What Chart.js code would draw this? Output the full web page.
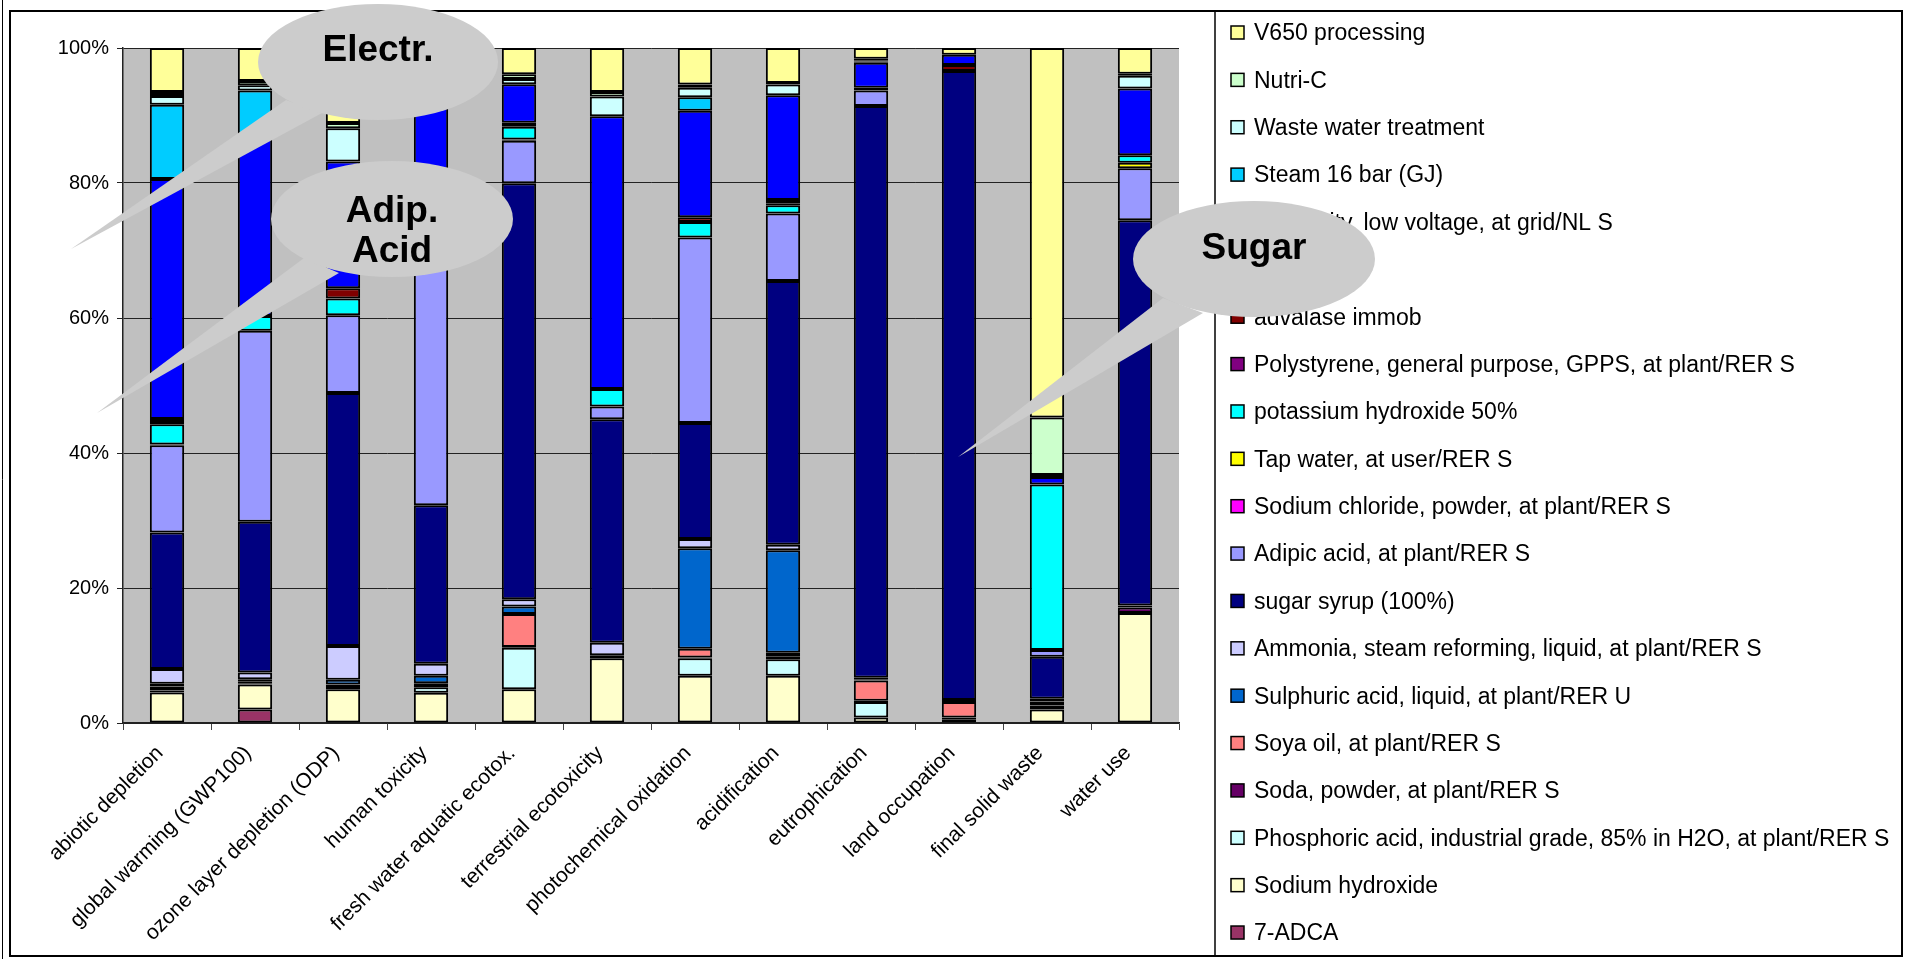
<!DOCTYPE html>
<html>
<head>
<meta charset="utf-8">
<title>Impact contributions</title>
<script src="https://cdn.jsdelivr.net/npm/chart.js@4.4.0/dist/chart.umd.min.js"></script>
<style>
  html, body { margin: 0; padding: 0; background: #ffffff; }
  #wrap { width: 1905px; height: 959px; position: relative; }
</style>
</head>
<body>
<div id="wrap"><canvas id="chart"></canvas></div>
<script>
// impact categories (x axis)
const categories = [
  'abiotic depletion', 'global warming (GWP100)', 'ozone layer depletion (ODP)',
  'human toxicity', 'fresh water aquatic ecotox.', 'terrestrial ecotoxicity',
  'photochemical oxidation', 'acidification', 'eutrophication',
  'land occupation', 'final solid waste', 'water use'
];

const yTicks = [0, 20, 40, 60, 80, 100];

// contributions per process, % of each category (stack order bottom -> top)
const adca7          = [0,    2.0,  0,    0,    0,    0,    0,    0,    0,    0,    0,    0];
const sodiumHydrox   = [4.5,  3.7,  5.0,  4.5,  5.0,  9.6,  7.0,  7.0,  0.8,  0.5,  2.0,  16.3];
const phosphoric     = [0.3,  0.2,  0.5,  0.8,  6.2,  0,    2.6,  2.45, 2.3,  0,    0.6,  0];
const sodaPowder     = [0.6,  0.3,  0.2,  0.6,  0.1,  0,    0.1,  0.35, 0.2,  0.3,  0.6,  0.8];
const soyaOil        = [0,    0,    0,    0,    4.9,  0.45, 1.3,  0.6,  3.0,  2.3,  0,    0];
const sulphuric      = [0.4,  0.3,  0.7,  1.1,  1.1,  0,    14.9, 15.2, 0.2,  0.3,  0.4,  0.3];
const ammonia        = [2.2,  1.0,  5.0,  1.8,  1.1,  1.85, 1.4,  0.8,  0.2,  0,    0,    0];
const sugarSyrup     = [20.2, 22.3, 37.5, 23.5, 61.8, 33.1, 17.2, 39.1, 84.7, 93.2, 6.2,  57.1];
const adipicAcid     = [12.9, 28.3, 11.5, 35.6, 6.3,  1.9,  27.5, 10.0, 2.3,  0,    1.0,  7.7];
const sodiumChloride = [0,    0,    0,    0,    0,    0,    0,    0,    0,    0,    0,    0];
const tapWater       = [0.1,  0,    0,    0,    0.2,  0,    0,    0,    0,    0,    0,    0.8];
const potassiumHydr  = [3.0,  2.2,  2.5,  1.0,  1.9,  2.6,  2.3,  1.2,  0.4,  0,    24.5, 1.1];
const polystyrene    = [0.5,  0,    0,    0,    0,    0,    0,    0.3,  0,    0,    0,    0];
const advalase       = [0.3,  0,    1.5,  0,    0.6,  0,    0.7,  0.5,  0,    0.9,  0,    0];
const antifoam       = [0,    0,    0,    0,    0,    0,    0,    0,    0,    0,    0,    0];
const electricity    = [35.5, 26.7, 18.8, 24.2, 5.7,  40.4, 15.8, 15.5, 3.7,  1.5,  1.1,  9.9];
const steam          = [11.0, 6.7,  0,    0,    0,    0,    2.0,  0,    0.2,  0,    0,    0];
const wasteWater     = [1.3,  0.8,  4.9,  1.5,  0.8,  2.9,  1.4,  1.6,  0.2,  0,    0.3,  1.9];
const nutriC         = [0.6,  0.6,  0.8,  0.5,  0.7,  0.7,  0.5,  0.2,  0.2,  0,    8.5,  0.3];
const v650           = [6.5,  4.9,  11.1, 5.0,  3.9,  6.5,  5.4,  5.2,  1.6,  1.0,  54.7, 3.8];

const seriesNames = [
  '7-ADCA',
  'Sodium hydroxide',
  'Phosphoric acid, industrial grade, 85% in H2O, at plant/RER S',
  'Soda, powder, at plant/RER S',
  'Soya oil, at plant/RER S',
  'Sulphuric acid, liquid, at plant/RER U',
  'Ammonia, steam reforming, liquid, at plant/RER S',
  'sugar syrup (100%)',
  'Adipic acid, at plant/RER S',
  'Sodium chloride, powder, at plant/RER S',
  'Tap water, at user/RER S',
  'potassium hydroxide 50%',
  'Polystyrene, general purpose, GPPS, at plant/RER S',
  'advalase immob',
  'Antifoam X',
  'Electricity, low voltage, at grid/NL S',
  'Steam 16 bar (GJ)',
  'Waste water treatment',
  'Nutri-C',
  'V650 processing'
];

const seriesValues = [
  adca7, sodiumHydrox, phosphoric, sodaPowder, soyaOil, sulphuric, ammonia,
  sugarSyrup, adipicAcid, sodiumChloride, tapWater, potassiumHydr, polystyrene,
  advalase, antifoam, electricity, steam, wasteWater, nutriC, v650
];

const seriesColors = [
  '#993366', '#FFFFCC', '#CCFFFF', '#660066', '#FF8080', '#0066CC', '#CCCCFF',
  '#000080', '#9999FF', '#FF00FF', '#FFFF00', '#00FFFF', '#800080', '#800000',
  '#008080', '#0000FF', '#00CCFF', '#CCFFFF', '#CCFFCC', '#FFFF99'
];

// speech bubbles laid over the chart (canvas pixels)
const callouts = [
  { lines: ['Electr.'], cx: 378, cy: 62, rx: 120, ry: 58, textY: [51],
    tail: [[286, 100], [322, 113], [71, 249]] },
  { lines: ['Adip.', 'Acid'], cx: 392, cy: 219, rx: 121, ry: 58, textY: [212, 252],
    tail: [[304, 258], [339, 273], [97, 413]] },
  { lines: ['Sugar'], cx: 1254, cy: 259, rx: 121, ry: 58, textY: [249],
    tail: [[1163, 298], [1203, 313], [958, 457]] }
];

const FONT = '"Liberation Sans", Arial, sans-serif';

// 100% stacked: scale every category to its total
const totals = categories.map((_, i) => seriesValues.reduce((s, arr) => s + arr[i], 0));

const datasets = seriesValues.map((arr, k) => ({
  label: seriesNames[k],
  data: arr.map((v, i) => v / totals[i] * 100),
  backgroundColor: seriesColors[k],
  borderColor: '#000000',
  borderWidth: 2,
  borderSkipped: false,
  barPercentage: 0.39,
  categoryPercentage: 1.0
}));

const plotBackground = {
  id: 'plotBackground',
  beforeDraw(chart) {
    const { ctx, chartArea: a } = chart;
    ctx.save();
    ctx.fillStyle = '#ffffff';
    ctx.fillRect(0, 0, chart.width, chart.height);
    ctx.fillStyle = '#C0C0C0';
    ctx.fillRect(a.left, a.top, a.right - a.left, a.bottom - a.top);
    ctx.restore();
  }
};

const legendAndFrame = {
  id: 'legendAndFrame',
  afterDraw(chart) {
    const ctx = chart.ctx;
    ctx.save();
    // outer frames
    ctx.strokeStyle = '#000000';
    ctx.lineWidth = 1;
    ctx.beginPath();
    ctx.moveTo(2.5, 0); ctx.lineTo(2.5, chart.height);
    ctx.stroke();
    ctx.lineWidth = 2;
    ctx.strokeRect(10, 11, 1892, 945);
    ctx.lineWidth = 1.5;
    ctx.beginPath();
    ctx.moveTo(1215, 11); ctx.lineTo(1215, 956);
    ctx.stroke();

    // legend, top entry = last dataset
    const ds = chart.data.datasets;
    ctx.font = '23px ' + FONT;
    ctx.textBaseline = 'middle';
    ctx.textAlign = 'left';
    for (let j = 0; j < ds.length; j++) {
      const d = ds[ds.length - 1 - j];
      const y = 33 + j * 47.37;
      ctx.fillStyle = d.backgroundColor;
      ctx.fillRect(1231, y - 7, 13, 13);
      ctx.strokeStyle = '#000000';
      ctx.lineWidth = 1.5;
      ctx.strokeRect(1231, y - 7, 13, 13);
      ctx.fillStyle = '#000000';
      ctx.fillText(d.label, 1254, y + 1);
    }

    // speech bubbles
    callouts.forEach(c => {
      ctx.fillStyle = '#CCCCCC';
      ctx.beginPath();
      ctx.moveTo(c.tail[0][0], c.tail[0][1]);
      ctx.lineTo(c.tail[2][0], c.tail[2][1]);
      ctx.lineTo(c.tail[1][0], c.tail[1][1]);
      ctx.closePath();
      ctx.fill();
      ctx.beginPath();
      ctx.ellipse(c.cx, c.cy, c.rx, c.ry, 0, 0, Math.PI * 2);
      ctx.fill();
      ctx.fillStyle = '#000000';
      ctx.font = 'bold 37px ' + FONT;
      ctx.textAlign = 'center';
      c.lines.forEach((t, n) => ctx.fillText(t, c.cx, c.textY[n]));
    });
    ctx.restore();
  }
};

new Chart(document.getElementById('chart'), {
  type: 'bar',
  data: { labels: categories, datasets: datasets },
  options: {
    responsive: true,
    maintainAspectRatio: false,
    animation: false,
    layout: { padding: { left: 10, right: 726, top: 48, bottom: 0 } },
    plugins: {
      legend: { display: false },
      tooltip: { enabled: false }
    },
    scales: {
      x: {
        stacked: true,
        offset: true,
        grid: { display: true, drawOnChartArea: false, drawTicks: true, tickLength: 7, offset: true, color: '#444444' },
        border: { color: '#222222', width: 1.5 },
        ticks: {
          color: '#000000',
          font: { family: FONT, size: 21 },
          maxRotation: 45, minRotation: 45,
          autoSkip: false,
          padding: 11,
          labelOffset: -7
        },
        afterFit(scale) { scale.height = 236; }
      },
      y: {
        stacked: true,
        min: yTicks[0],
        max: yTicks[yTicks.length - 1],
        afterBuildTicks(scale) { scale.ticks = yTicks.map(v => ({ value: v })); },
        grid: { color: '#222222', lineWidth: 1, tickLength: 6 },
        border: { color: '#222222', width: 1.5 },
        ticks: {
          color: '#000000',
          font: { family: FONT, size: 20 },
          padding: 8,
          callback: v => v + '%'
        },
        afterFit(scale) { scale.width = 113; }
      }
    }
  },
  plugins: [plotBackground, legendAndFrame]
});
</script>
</body>
</html>
